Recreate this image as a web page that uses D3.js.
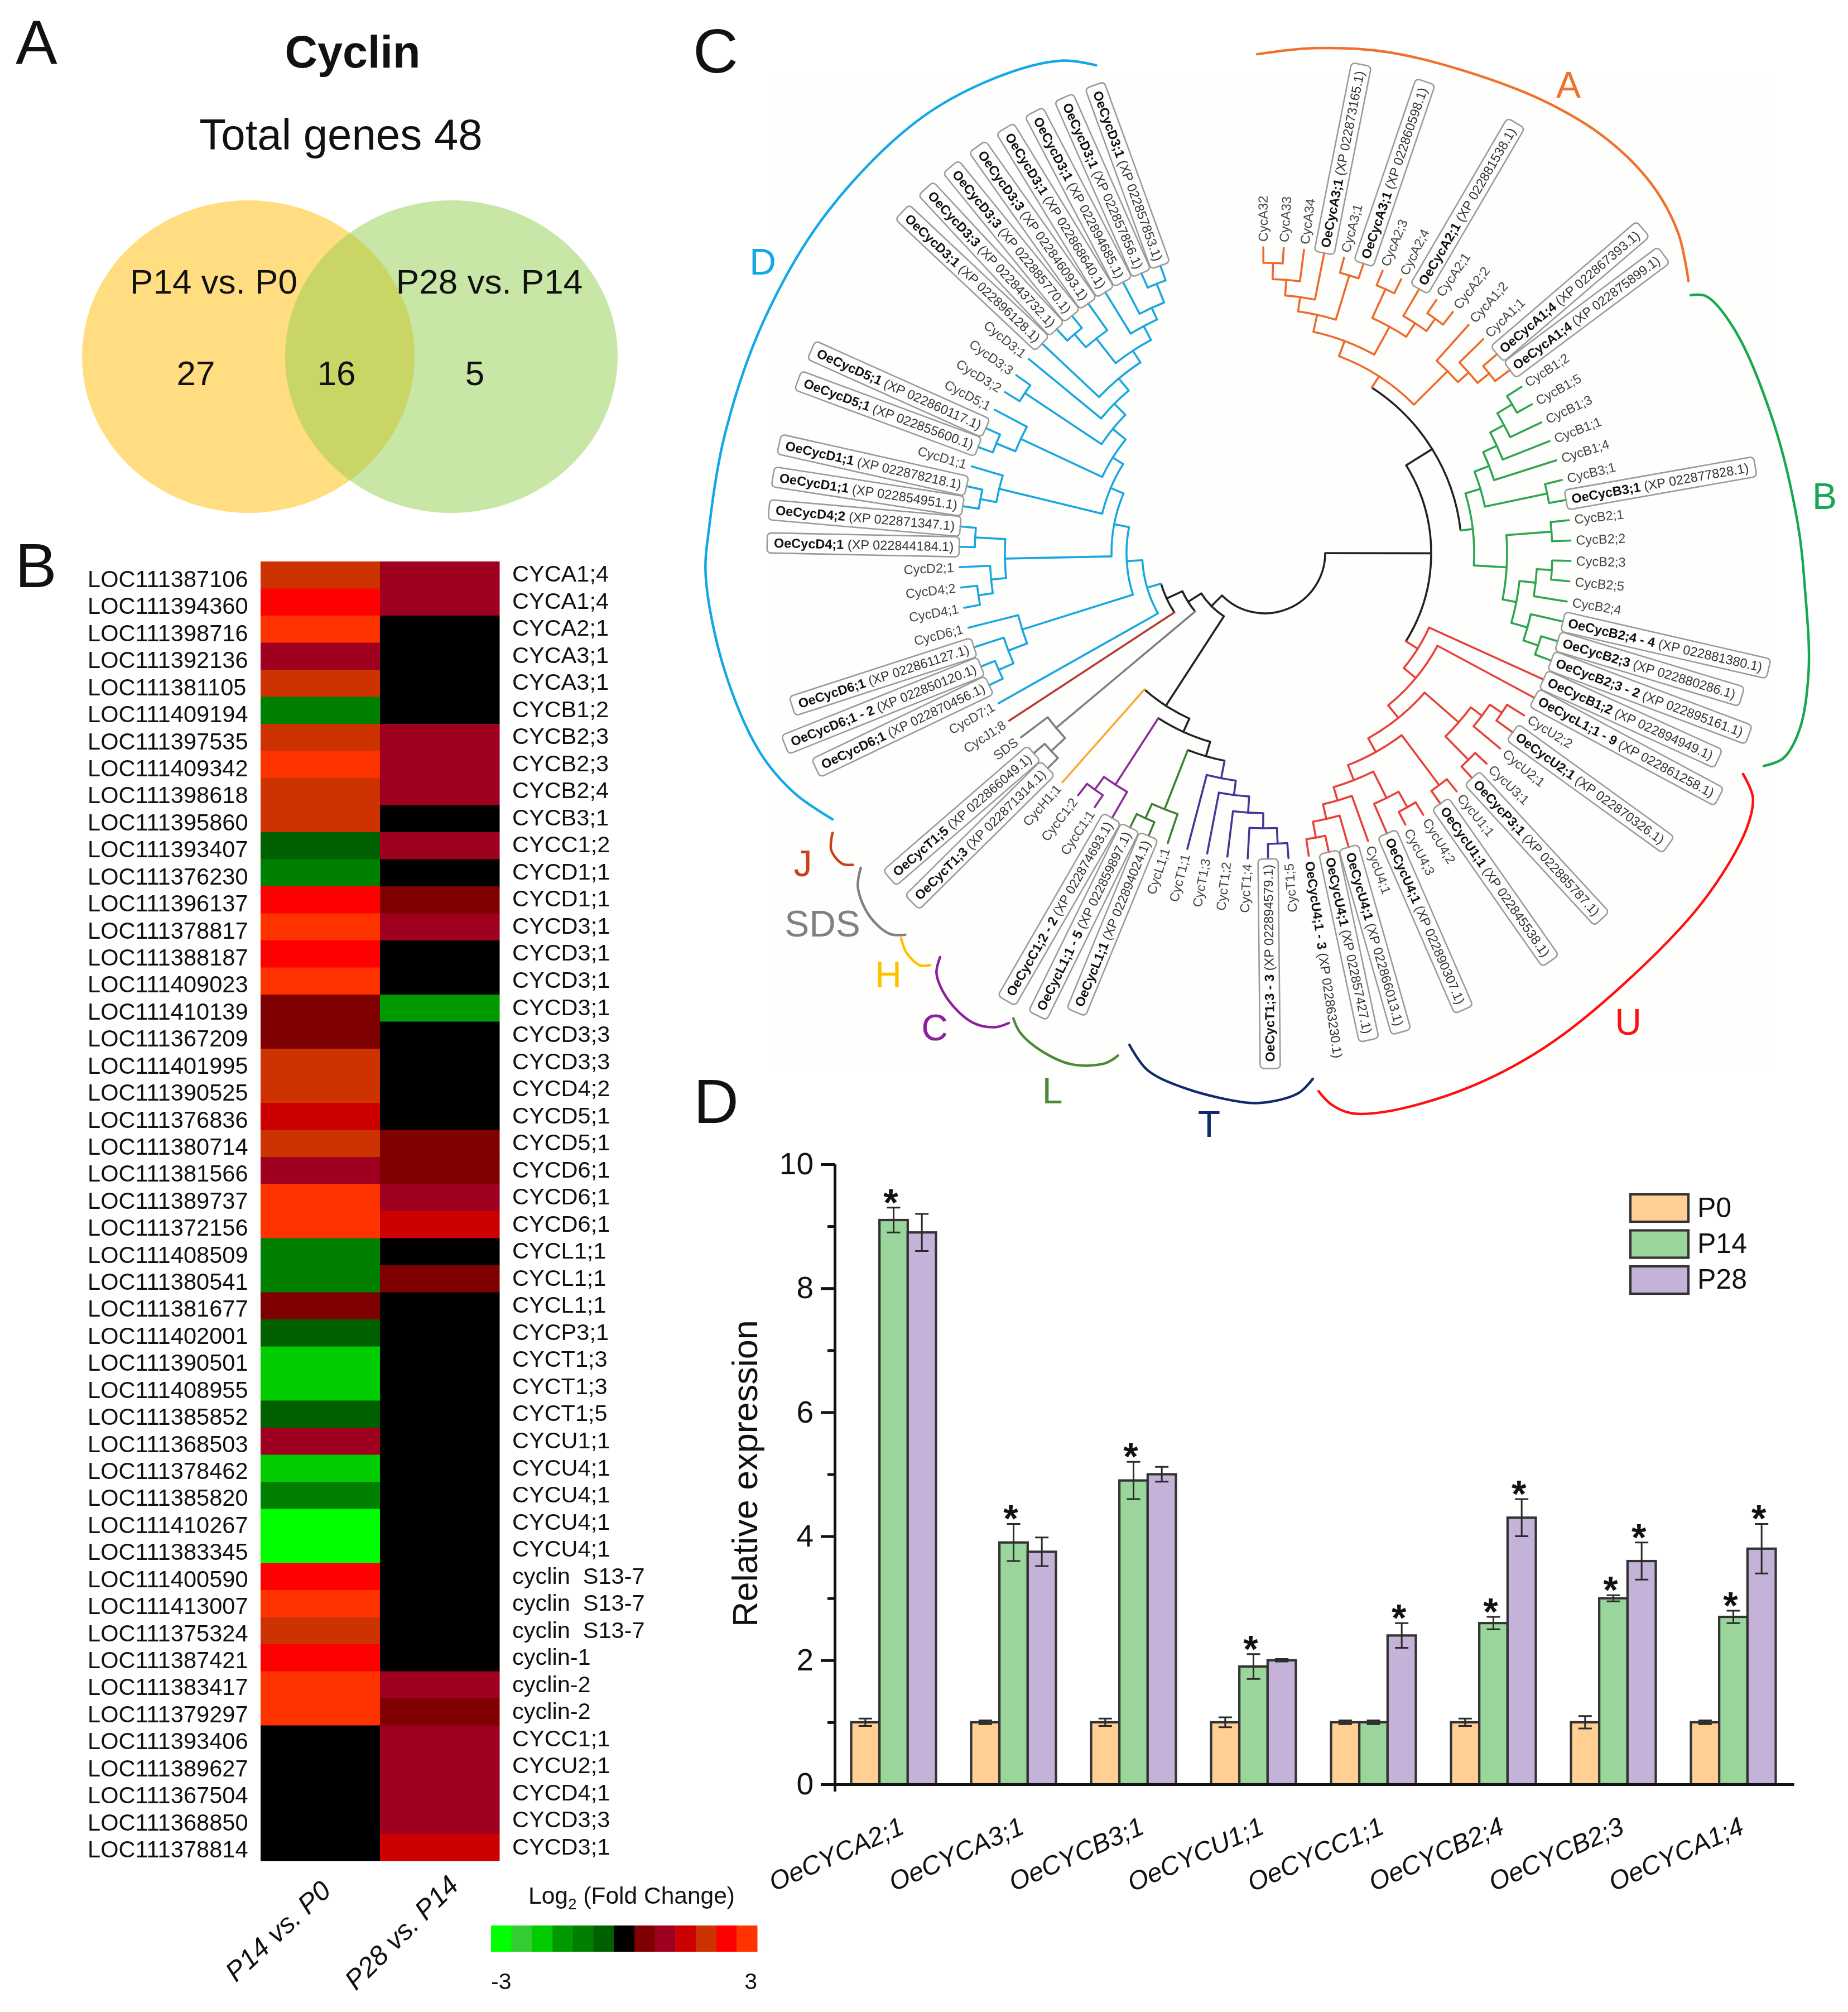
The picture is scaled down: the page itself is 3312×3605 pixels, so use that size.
<!DOCTYPE html>
<html><head><meta charset="utf-8">
<script src="https://cdn.jsdelivr.net/npm/d3@7"></script>
<style>html,body{margin:0;padding:0;background:#fff}svg{display:block;filter:blur(0.7px)}text{font-family:"Liberation Sans",Arial,sans-serif;fill:#111}</style>
</head><body><svg id="c" width="3312" height="3605" viewBox="0 0 3312 3605"></svg>
<script>
// ---------- Panel A: Venn ----------
const vennTitle = "Cyclin", vennTotal = "Total genes 48";
const vennSets = ["P14 vs. P0", "P28 vs. P14"];
const vennCounts = [27, 16, 5];
const vennColors = ["#FFDD80", "#C8E6A5", "#C9D666"];

// ---------- Panel B: heat map ----------
const geneIds = ["LOC111387106","LOC111394360","LOC111398716","LOC111392136","LOC111381105","LOC111409194","LOC111397535","LOC111409342","LOC111398618","LOC111395860","LOC111393407","LOC111376230","LOC111396137","LOC111378817","LOC111388187","LOC111409023","LOC111410139","LOC111367209","LOC111401995","LOC111390525","LOC111376836","LOC111380714","LOC111381566","LOC111389737","LOC111372156","LOC111408509","LOC111380541","LOC111381677","LOC111402001","LOC111390501","LOC111408955","LOC111385852","LOC111368503","LOC111378462","LOC111385820","LOC111410267","LOC111383345","LOC111400590","LOC111413007","LOC111375324","LOC111387421","LOC111383417","LOC111379297","LOC111393406","LOC111389627","LOC111367504","LOC111368850","LOC111378814"];
const geneNames = ["CYCA1;4","CYCA1;4","CYCA2;1","CYCA3;1","CYCA3;1","CYCB1;2","CYCB2;3","CYCB2;3","CYCB2;4","CYCB3;1","CYCC1;2","CYCD1;1","CYCD1;1","CYCD3;1","CYCD3;1","CYCD3;1","CYCD3;1","CYCD3;3","CYCD3;3","CYCD4;2","CYCD5;1","CYCD5;1","CYCD6;1","CYCD6;1","CYCD6;1","CYCL1;1","CYCL1;1","CYCL1;1","CYCP3;1","CYCT1;3","CYCT1;3","CYCT1;5","CYCU1;1","CYCU4;1","CYCU4;1","CYCU4;1","CYCU4;1","cyclin  S13-7","cyclin  S13-7","cyclin  S13-7","cyclin-1","cyclin-2","cyclin-2","CYCC1;1","CYCU2;1","CYCD4;1","CYCD3;3","CYCD3;1"];
const heatP14vsP0 = [2,2.5,3,1,2,-1,2,3,2,2,-0.5,-1,2.5,3,2.5,3,0.5,0.5,2,2,1.5,2,1,3,3,-1,-1,0.5,-0.5,-2,-2,-0.5,1,-2,-1,-3,-3,2.5,3,2,2.5,3,3,0,0,0,0,0];
const heatP28vsP14 = [1,1,0,0,0,0,1,1,1,0,1,0,0.5,1,0,0,-1.5,0,0,0,0,0.5,0.5,1,1.5,0,0.5,0,0,0,0,0,0,0,0,0,0,0,0,0,0,1,0.5,1,1,1,1,1.5];
const heatColumns = ["P14 vs. P0", "P28 vs. P14"];
const foldSteps = [-3,-2.5,-2,-1.5,-1,-0.5,0,0.5,1,1.5,2,2.5,3];
const foldColors = ["#00FF00","#33CC33","#00CC00","#009900","#007F00","#006000","#000000","#7F0000","#A00020","#CC0000","#CC3300","#FF0000","#FF3300"];

// ---------- Panel C: tree ----------
const N = (r, ...kids) => ({ r, kids });
const L = (name, clade) => ({ name, clade });
const cladeColors = { A:"#EE6A2C", B:"#2FA551", U:"#E8413A", T:"#43389A", L:"#3F7F35", C:"#8C2A9C", H:"#F9A83A", S:"#7F7F7F", J:"#B23C34", D:"#1AA7E0" };
const cladeA = N(377,
  N(406,
    N(437, N(463, N(491, N(520,"CycA32","CycA33"),"CycA34"),"OeCycA3;1 (XP 022873165.1)"), N(520,"CycA3;1","OeCycA3;1 (XP 022860598.1)")),
    N(463, N(520,"CycA2;3","CycA2;4"), N(492,"OeCycA2;1 (XP 022881538.1)",N(519,"CycA2;1","CycA2;2")))),
  N(462,"CycA1;2",N(488,"CycA1;1",N(515,"OeCycA1;4 (XP 022867393.1)","OeCycA1;4 (XP 022875899.1)"))));
const cladeB = N(375,
  N(403, N(431,N(458,N(486,N(517,"CycB1;2","CycB1;5"),"CycB1;3"),"CycB1;1"),"CycB1;4"), N(517,"CycB3;1","OeCycB3;1 (XP 022877828.1)")),
  N(434, N(515,"CycB2;1","CycB2;2"), N(459, N(488,N(515,"CycB2;3","CycB2;5"),"CycB2;4"), N(489,"OeCycB2;4 - 4 (XP 022881380.1)",N(517,"OeCycB2;3 (XP 022880286.1)","OeCycB2;3 - 2 (XP 022895161.1)")))));
const cladeU = N(323,"OeCycB1;2 (XP 022894949.1)",N(351,"OeCycL1;1 - 9 (XP 022861258.1)",N(380,
  N(461,N(486,N(512,"CycU2;2","OeCycU2;1 (XP 022870326.1)"),"CycU2;1"),N(520,"CycU3;1","OeCycP3;1 (XP 022885787.1)")),
  N(408,N(520,"CycU1;1","OeCycU1;1 (XP 022845538.1)"),N(437,
    N(490,N(522,"CycU4;2","CycU4;3"),"OeCycU4;1 (XP 022890307.1)"),
    N(462,"CycU4;1",N(489,"OeCycU4;1 (XP 022866013.1)",N(518,"OeCycU4;1 (XP 022857427.1)","OeCycU4;1 - 3 (XP 022863230.1)"))))))));
const cladeT = N(411,N(437,N(466,N(493,N(521,"CycT1;5","OeCycT1;3 - 3 (XP 022894579.1)"),"CycT1;4"),"CycT1;2"),"CycT1;3"),"CycT1;1");
const cladeL = N(493,"CycL1;1",N(521,"OeCycL1;1 (XP 022894024.1)","OeCycL1;1 - 5 (XP 022859897.1)"));
const cladeC = N(494,"OeCycC1;2 - 2 (XP 022874693.1)",N(522,"CycC1;1","CycC1;2"));
const cladeS = N(488,N(522,"OeCycT1;3 (XP 022871314.1)","OeCycT1;5 (XP 022866049.1)"),"SDS");
const d11 = N(461,"OeCycD3;1 (XP 022868640.1)",N(484,"OeCycD3;1 (XP 022894685.1)",N(520,"OeCycD3;1 (XP 022857856.1)","OeCycD3;1 (XP 022857853.1)")));
const d9 = N(433,N(489,N(520,"OeCycD3;3 (XP 022843732.1)","OeCycD3;3 (XP 022885770.1)"),"OeCycD3;3 (XP 022846093.1)"),d11);
const d7 = N(380,"CycD3;1",N(408,"OeCycD3;1 (XP 022896128.1)",d9));
const d5 = N(322,N(483,N(520,"OeCycD5;1 (XP 022855600.1)","OeCycD5;1 (XP 022860117.1)"),"CycD5;1"),N(352,N(517,"CycD3;2","CycD3;3"),d7));
const d3g = N(300,N(490,N(519,"OeCycD1;1 (XP 022854951.1)","OeCycD1;1 (XP 022878218.1)"),"CycD1;1"),d5);
const d4g = N(466,N(493,N(519,"CycD4;1","CycD4;2"),"CycD2;1"),N(520,"OeCycD4;1 (XP 022844184.1)","OeCycD4;2 (XP 022871347.1)"));
const cladeD = N(220,"CycD7;1",N(248,N(456,N(492,N(521,"OeCycD6;1 (XP 022870456.1)","OeCycD6;1 - 2 (XP 022850120.1)"),"OeCycD6;1 (XP 022861127.1)"),"CycD6;1"),N(275,d4g,d3g)));
[["A",cladeA],["B",cladeB],["U",cladeU],["T",cladeT],["L",cladeL],["C",cladeC],["S",cladeS],["D",cladeD]].forEach(([k,n])=>n.clade=k);
const treeRoot = N(108,
  N(298, N(353, cladeA, cladeB), cladeU),
  N(135,
    N(326, N(352, N(379, cladeT, cladeL), cladeC), L("CycH1;1","H")),
    N(163, cladeS, N(194, L("CycJ1;8","J"), cladeD))));
const unboxedLeaves = ["OeCycU4;1 - 3 (XP 022863230.1)"];
// clade brackets: [angle in degrees clockwise from north, radius]
const bracketD = [[340.9,925],[337.5,955],[330.4,979],[321.1,994],[307.7,994],[294.9,990],[282.4,991],[272.7,997],[267.6,1003],[257.8,991],[248.5,973],[242.9,946],[238.4,910]];
const bracketA = [[-0.9,894],[5.6,909],[13.6,924],[22.5,935],[31.7,952],[39.1,962],[46.2,958],[52.2,937],[57.3,902]];
const bracketB = [[58.8,892],[59.8,915],[64.5,932],[75.5,941],[86.6,956],[93.8,970],[102.2,997],[108.3,1009],[111.6,999],[113.1,972]];
const bracketU = [[114.8,944],[116.6,978],[120,995],[128.6,1003],[140.3,1005],[150.6,1018],[159.6,1025],[167.8,1024],[171.3,1015],[173.2,994],[174.3,969]];
const bracketT = [[174.8,946],[176.4,969],[179.8,984],[182,985],[188.3,970],[192.8,950],[195.4,914]];
const bracketL = [[196.3,938],[197.4,958],[200.6,979],[204.1,978],[207,965],[208.4,948]];
const bracketC = [[208.6,959],[209.7,978],[212,991],[215.4,981],[218,956],[218.8,929]];
const bracketH = [[219.1,951],[219.9,963],[221.9,962],[223.4,949]];
const bracketS = [[223.3,940],[224.6,958],[227.4,962],[230.6,944],[232.1,918]];
const bracketJ = [[232.9,926],[233.7,940],[235.6,942],[237.1,923]];
const cladeBrackets = [["D",bracketD],["A",bracketA],["B",bracketB],["U",bracketU],["T",bracketT],["L",bracketL],["C",bracketC],["H",bracketH],["S",bracketS],["J",bracketJ]];
const bracketLetterColors = { A:"#F0712C", B:"#18A850", U:"#FF1010", T:"#0F2A6E", L:"#4C8A3A", C:"#8E1FA0", H:"#FFC000", S:"#808080", J:"#C8411E", D:"#12A8E8" };

// ---------- Panel D: bars ----------
const barGenes = ["OeCYCA2;1","OeCYCA3;1","OeCYCB3;1","OeCYCU1;1","OeCYCC1;1","OeCYCB2;4","OeCYCB2;3","OeCYCA1;4"];
const barStages = ["P0","P14","P28"];
const barColors = ["#FFCF94","#9AD69B","#C4B2D8"];
const valuesP0  = [1,1,1,1,1,1,1,1];
const valuesP14 = [9.1,3.9,4.9,1.9,1,2.6,3,2.7];
const valuesP28 = [8.9,3.75,5,2,2.4,4.3,3.6,3.8];
const errorsP0  = [0.06,0.03,0.06,0.08,0.03,0.06,0.1,0.03];
const errorsP14 = [0.2,0.3,0.3,0.2,0.03,0.1,0.05,0.1];
const errorsP28 = [0.3,0.23,0.12,0.02,0.2,0.3,0.3,0.4];
const starsP14 = [1,1,1,1,0,1,1,1];
const starsP28 = [0,0,0,0,1,1,1,1];

// ---------- drawing ----------
const svg = d3.select("#c");
function label(parent, x, y, s, o = {}) {
  const t = parent.append("text").attr("x", x).attr("y", y).text(s)
    .attr("font-size", o.size || 40).attr("text-anchor", o.anchor || "start");
  if (o.weight) t.attr("font-weight", o.weight);
  if (o.italic) t.attr("font-style", "italic");
  if (o.fill) t.style("fill", o.fill);
  if (o.rot) t.attr("transform", `rotate(${o.rot},${x},${y})`);
  return t;
}
svg.append("rect").attr("x",1387).attr("y",130).attr("width",1790).attr("height",1790).attr("fill","#FEFEFC");
[["A",28,114],["B",27,1052],["C",1242,130],["D",1243,2012]].forEach(([s,x,y])=>label(svg,x,y,s,{size:112}));

// Panel A
const gA = svg.append("g");
const vennX = d3.scaleOrdinal().domain(vennSets).range([445,809]);
const vennRx = 298, vennRy = 280, vennCy = 639;
gA.append("clipPath").attr("id","vl").append("ellipse").attr("cx",vennX(vennSets[0])).attr("cy",vennCy).attr("rx",vennRx).attr("ry",vennRy);
gA.selectAll("ellipse.s").data(vennSets).join("ellipse").attr("class","s")
  .attr("cx",d=>vennX(d)).attr("cy",vennCy).attr("rx",vennRx).attr("ry",vennRy).attr("fill",(d,i)=>vennColors[i]);
gA.append("ellipse").attr("clip-path","url(#vl)").attr("cx",vennX(vennSets[1])).attr("cy",vennCy).attr("rx",vennRx).attr("ry",vennRy).attr("fill",vennColors[2]);
label(gA,632,121,vennTitle,{size:81,weight:"bold",anchor:"middle"});
label(gA,611,268,vennTotal,{size:78,anchor:"middle"});
label(gA,383,526,vennSets[0],{size:62,anchor:"middle"});
label(gA,877,526,vennSets[1],{size:62,anchor:"middle"});
[351,603,851].forEach((x,i)=>label(gA,x,690,vennCounts[i],{size:62,anchor:"middle"}));

// Panel B
const gB = svg.append("g");
const rowBand = d3.scaleBand().domain(d3.range(geneIds.length)).range([1006,3334]);
const colBand = d3.scaleBand().domain(heatColumns).range([467,895]);
const foldColor = d3.scaleOrdinal().domain(foldSteps).range(foldColors);
[heatP14vsP0,heatP28vsP14].forEach((vals,c)=>{
  gB.selectAll(null).data(vals).join("rect")
    .attr("x",colBand(heatColumns[c])).attr("width",colBand.bandwidth()+0.5)
    .attr("y",(d,i)=>rowBand(i)).attr("height",rowBand.bandwidth()+0.5)
    .attr("fill",d=>foldColor(d));
});
const idY = d3.scaleLinear().domain([0,47]).range([1052,3328]);
const nameY = d3.scaleLinear().domain([0,47]).range([1042,3323]);
geneIds.forEach((s,i)=>label(gB,157,idY(i),s,{size:41.6}));
geneNames.forEach((s,i)=>label(gB,918,nameY(i),s,{size:41.5}).style("white-space","pre"));
label(gB,423,3553,heatColumns[0],{size:49,italic:true,rot:-43});
label(gB,638,3568,heatColumns[1],{size:49,italic:true,rot:-45});
const logT = label(gB,947,3411,"Log",{size:42.5});
logT.append("tspan").attr("dy",10).attr("font-size",28).text("2");
logT.append("tspan").attr("dy",-10).text(" (Fold Change)");
const legBand = d3.scaleBand().domain(foldSteps).range([880,1357]);
gB.selectAll(null).data(foldSteps).join("rect").attr("x",d=>legBand(d)).attr("width",legBand.bandwidth()+0.5)
  .attr("y",3450).attr("height",47).attr("fill",d=>foldColor(d));
label(gB,880,3564,"-3",{size:41});
label(gB,1357,3564,"3",{size:41,anchor:"end"});

// Panel C
const cx = 2267, cy = 991, leafR = 548;
const gC = svg.append("g").attr("transform",`translate(${cx},${cy})`);
const hier = d3.hierarchy(treeRoot, d => typeof d === "string" ? null : d.kids);
const leafAngle = d3.scaleLinear().domain([0,89]).range([-0.3,340]);
const rad = Math.PI/180;
hier.leaves().forEach((n,i)=>{ n.theta = leafAngle(i); n.radius = leafR; n.leafName = typeof n.data==="string"? n.data : n.data.name; });
hier.eachAfter(n=>{ if(n.children){ n.theta=(n.children[0].theta+n.children[n.children.length-1].theta)/2; n.radius=n.data.r; }});
hier.eachBefore(n=>{ n.clade = (n.data && n.data.clade) || (n.parent && n.parent.clade) || null; });
const branchColor = n => n.clade ? cladeColors[n.clade] : "#222";
const arcGen = d3.arc();
const treeG = gC.append("g").attr("fill","none").attr("stroke-width",3.6).attr("stroke-linecap","round");
const labelG = gC.append("g");
hier.descendants().forEach(n=>{
  if(n.parent){
    const a=d3.pointRadial(n.theta*rad,n.parent.radius), b=d3.pointRadial(n.theta*rad,n.radius);
    treeG.append("path").attr("d",d3.line()([a,b])).attr("stroke",branchColor(n));
  }
  if(n.children){
    const t0=n.children[0].theta*rad, t1=n.children[n.children.length-1].theta*rad;
    treeG.append("path").attr("d",arcGen({innerRadius:n.radius,outerRadius:n.radius,startAngle:t0,endAngle:t1})).attr("stroke",branchColor(n));
  }
});
hier.leaves().forEach(n=>{
  const normal = n.theta < 175;
  const g = labelG.append("g").attr("transform",`rotate(${n.theta-90}) translate(${leafR},0)${normal?"":" rotate(180)"}`);
  const nm = n.leafName, isOe = nm.startsWith("Oe");
  const t = g.append("text").attr("x",normal?10:-10).attr("y",8).attr("font-size",23.5).attr("text-anchor",normal?"start":"end");
  if(isOe){
    const k = nm.indexOf(" (XP");
    t.append("tspan").attr("font-weight","bold").text(nm.slice(0,k));
    t.append("tspan").style("fill","#333").text(nm.slice(k));
    if(!unboxedLeaves.includes(nm)){
      const w = t.node().getComputedTextLength()+22;
      g.insert("rect","text").attr("x",normal?0:-w).attr("y",-18).attr("width",w).attr("height",36).attr("rx",7)
        .attr("fill","none").attr("stroke","#9a9a9a").attr("stroke-width",2.6);
    }
  } else { t.text(nm).style("fill","#444"); }
});
const bracketLine = d3.lineRadial().angle(d=>d[0]*rad).radius(d=>d[1]).curve(d3.curveCatmullRom);
cladeBrackets.forEach(([k,pts])=>gC.append("path").attr("d",bracketLine(pts)).attr("fill","none")
  .attr("stroke",bracketLetterColors[k]).attr("stroke-width",4.5).attr("stroke-linecap","round"));
[["A",2811,175],["D",1367,492],["B",3270,912],["U",2918,1854],["T",2167,2037],["L",1886,1977],["C",1675,1864],["H",1592,1769],["S",1474,1678],["J",1439,1570]]
 .forEach(([k,x,y])=>label(svg,x,y,k==="S"?"SDS":k,{size:66,anchor:"middle",fill:bracketLetterColors[k]}));

// Panel D
const gD = svg.append("g");
const y = d3.scaleLinear().domain([0,10]).range([3197,2086]);
const xAxisScale = d3.scaleLinear().domain([0,1]).range([1496,3215]);
const xBand = d3.scaleBand().domain(barGenes).range([1494,3214]).paddingInner(0.293).paddingOuter(0.1465);
const xInner = d3.scaleBand().domain(barStages).range([0,xBand.bandwidth()]);
const series = [[valuesP0,errorsP0,null],[valuesP14,errorsP14,starsP14],[valuesP28,errorsP28,starsP28]];
series.forEach(([vals,errs,stars],s)=>{
  const st = barStages[s];
  const cxb = g=>xBand(g)+xInner(st)+xInner.bandwidth()/2;
  gD.selectAll(null).data(barGenes).join("rect")
    .attr("x",g=>xBand(g)+xInner(st)).attr("width",xInner.bandwidth())
    .attr("y",(g,i)=>y(vals[i])).attr("height",(g,i)=>y(0)-y(vals[i]))
    .attr("fill",barColors[s]).attr("stroke","#333").attr("stroke-width",4.2);
  barGenes.forEach((g,i)=>{
    const up=y(vals[i]+errs[i]), dn=y(vals[i]-errs[i]), c=cxb(g);
    gD.append("path").attr("d",`M${c-12},${up}H${c+12}M${c},${up}V${dn}M${c-12},${dn}H${c+12}`).attr("fill","none").attr("stroke","#2a2a2a").attr("stroke-width",3);
    if(stars && stars[i]) label(gD,c-5,up-28+42,"*",{size:68,weight:"bold",anchor:"middle"});
  });
});
const yMajor = d3.axisLeft(y).tickValues(d3.range(0,11,2)).tickSize(25).tickPadding(13).tickFormat(d3.format("d"));
const yMinor = d3.axisLeft(y).tickValues(d3.range(1,10,2)).tickSize(13).tickFormat("");
const gy = gD.append("g").attr("transform","translate(1496,0)");
gy.append("g").call(yMinor.tickSizeOuter(0));
gy.append("g").call(yMajor.tickSizeOuter(0));
gy.selectAll("path,line").attr("stroke","#111").attr("stroke-width",5);
gy.selectAll("text").attr("font-size",55).attr("font-family",null);
const xAxis = d3.axisBottom(xAxisScale).tickValues([0]).tickSize(13).tickSizeOuter(0).tickFormat("");
const gx = gD.append("g").attr("transform","translate(0,3197)").call(xAxis);
gx.selectAll("path,line").attr("stroke","#111").attr("stroke-width",5);
barGenes.forEach(g=>label(gD,xBand(g)+xBand.bandwidth()/2+22,3284,g,{size:47,italic:true,anchor:"end",rot:-24}));
label(gD,1357,2640,"Relative expression",{size:63,anchor:"middle",rot:-90});
const legY = d3.scaleBand().domain(barStages).range([2140,2318]).paddingInner(0.24);
gD.selectAll(null).data(barStages).join("rect").attr("x",2922).attr("width",104)
  .attr("y",d=>legY(d)).attr("height",legY.bandwidth())
  .attr("fill",(d,i)=>barColors[i]).attr("stroke","#333").attr("stroke-width",4.2);
barStages.forEach(d=>label(gD,3042,legY(d)+legY.bandwidth()/2+16,d,{size:50}));
</script></body></html>
